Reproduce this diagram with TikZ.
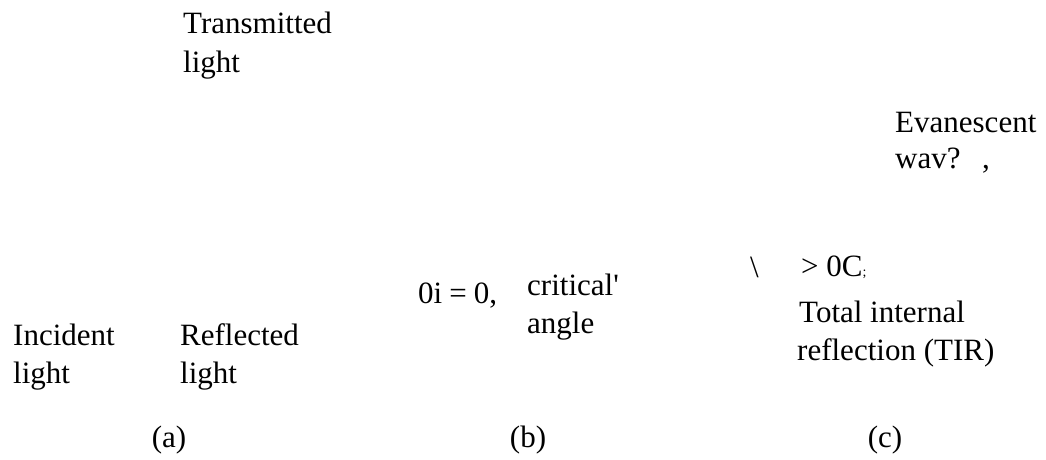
\documentclass[tikz,border=0pt]{standalone}
\usepackage{fontspec}
\setmainfont{Liberation Serif}
\begin{document}
\begin{tikzpicture}[x=1pt,y=-1pt,
  lbl/.style={inner sep=0pt,anchor=base west,font=\fontsize{31}{38}\selectfont},
  captxt/.style={inner sep=0pt,anchor=base,font=\fontsize{31}{38}\selectfont}]
\useasboundingbox (0,0) rectangle (1046,459);
% (a)
\node[lbl] (trans1) at (183,33) {Transmitted};
\node[lbl] (trans2) at (183,72) {light};
\node[lbl] (inc1) at (13,345) {Incident};
\node[lbl] (inc2) at (13,383) {light};
\node[lbl] (ref1) at (180,345) {Reflected};
\node[lbl] (ref2) at (180,383) {light};
\node[captxt] (capa) at (169,447) {(a)};
% (b)
\node[lbl] (theta) at (418,303) {0i\hspace{7pt}=\hspace{7pt}0,};
\node[lbl] (crit1) at (527,295) {critical\textquotesingle};
\node[lbl] (crit2) at (527,333) {angle};
\node[captxt] (capb) at (528,447) {(b)};
% (c)
\node[lbl] (eva1) at (895,132) {Evanescent};
\node[lbl] (eva2) at (895,168) {wav?};
\node[lbl] (comma) at (982,168) {,};
\node[lbl] (bslash) at (750,277) {\textbackslash};
\node[lbl] (gt) at (801,276) {> 0C\fontsize{14}{16}\selectfont ;};
\node[lbl] (tir1) at (799,322) {Total internal};
\node[lbl] (tir2) at (797,360) {reflection (TIR)};
\node[captxt] (capc) at (885,447) {(c)};
\end{tikzpicture}
\end{document}
